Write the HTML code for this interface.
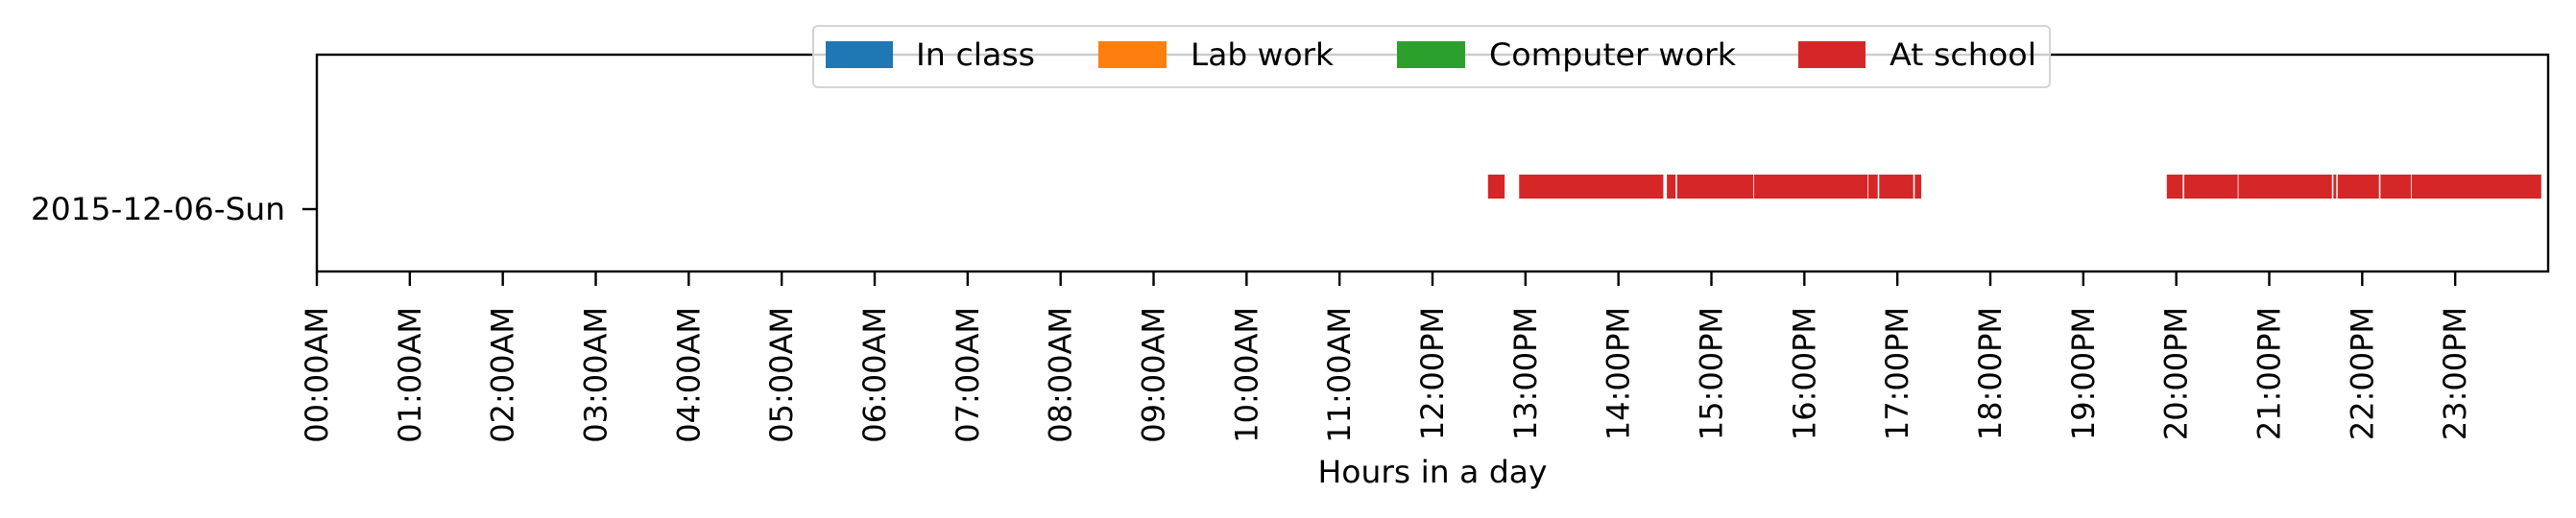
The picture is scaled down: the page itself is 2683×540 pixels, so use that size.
<!DOCTYPE html>
<html><head><meta charset="utf-8"><style>
body{margin:0;background:#fff}
svg{display:block;font-family:"DejaVu Sans","Liberation Sans",sans-serif}
</style></head><body>
<svg id="chart" width="2683" height="540" viewBox="0 0 2683 540" xmlns="http://www.w3.org/2000/svg">
<rect width="2683" height="540" fill="#fff"/>
<g id="bars"></g>
<g id="xticks"></g>
<rect x="330" y="57" width="2324" height="226" fill="none" stroke="#000" stroke-width="2.4"/>
<line x1="315" y1="218" x2="330" y2="218" stroke="#000" stroke-width="2.4"/>
<text x="297" y="218" font-size="32" text-anchor="end" dominant-baseline="central" textLength="265" lengthAdjust="spacingAndGlyphs">2015-12-06-Sun</text>
<text x="1492" y="503" font-size="32" text-anchor="middle" textLength="239" lengthAdjust="spacingAndGlyphs">Hours in a day</text>
<g>
<rect x="847" y="27" width="1288" height="64" rx="5" fill="#fff" fill-opacity="0.8" stroke="#d4d4d4" stroke-width="2"/>
<g><rect x="860" y="43" width="70" height="28" fill="#1f77b4"/><text x="954" y="68" font-size="32" textLength="124" lengthAdjust="spacingAndGlyphs">In class</text></g>
<g><rect x="1144" y="43" width="71" height="28" fill="#ff7f0e"/><text x="1240" y="68" font-size="32" textLength="149" lengthAdjust="spacingAndGlyphs">Lab work</text></g>
<g><rect x="1455" y="43" width="71" height="28" fill="#2ca02c"/><text x="1551" y="68" font-size="32" textLength="257" lengthAdjust="spacingAndGlyphs">Computer work</text></g>
<g><rect x="1873" y="43" width="70" height="28" fill="#d62728"/><text x="1968" y="68" font-size="32" textLength="153" lengthAdjust="spacingAndGlyphs">At school</text></g>
</g>
</svg>
<script>
const hourTicks = [0,1,2,3,4,5,6,7,8,9,10,11,12,13,14,15,16,17,18,19,20,21,22,23];
const tickLabels = ["00:00AM","01:00AM","02:00AM","03:00AM","04:00AM","05:00AM","06:00AM","07:00AM","08:00AM","09:00AM","10:00AM","11:00AM","12:00PM","13:00PM","14:00PM","15:00PM","16:00PM","17:00PM","18:00PM","19:00PM","20:00PM","21:00PM","22:00PM","23:00PM"];
const segStart = [12.597,12.932,14.521,14.631,15.457,16.688,16.805,17.187,19.898,20.085,20.669,21.690,21.736,22.196,22.531];
const segEnd   = [12.776,14.483,14.615,15.449,16.680,16.789,17.171,17.257,20.069,20.661,21.674,21.721,22.180,22.523,23.926];
const NS="http://www.w3.org/2000/svg";
function xs(h){return 330 + h*(2324/24);}
const bars=document.getElementById('bars');
for(let i=0;i<segStart.length;i++){
  const r=document.createElementNS(NS,'rect');
  r.setAttribute('x',xs(segStart[i]));
  r.setAttribute('y',182);
  r.setAttribute('width',xs(segEnd[i])-xs(segStart[i]));
  r.setAttribute('height',25);
  r.setAttribute('fill','#d62728');
  
  
  bars.appendChild(r);
}
const xt=document.getElementById('xticks');
for(let i=0;i<hourTicks.length;i++){
  const x=xs(hourTicks[i]);
  const l=document.createElementNS(NS,'line');
  l.setAttribute('x1',x);l.setAttribute('x2',x);l.setAttribute('y1',283);l.setAttribute('y2',298);
  l.setAttribute('stroke','#000');l.setAttribute('stroke-width','2.4');
  
  
  xt.appendChild(l);
  const t=document.createElementNS(NS,'text');
  t.setAttribute('transform','translate('+x+',320) rotate(-90)');
  t.setAttribute('text-anchor','end');
  t.setAttribute('dominant-baseline','central');
  t.setAttribute('font-size','32');
  t.textContent=tickLabels[i];
  
  
  xt.appendChild(t);
}
</script>
</body></html>
